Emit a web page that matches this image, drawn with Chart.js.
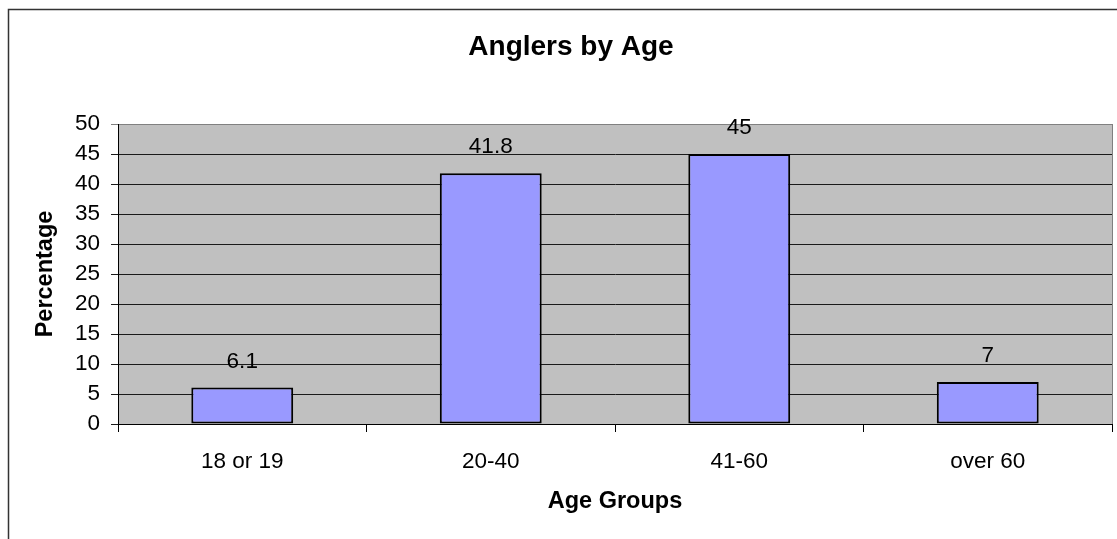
<!DOCTYPE html>
<html>
<head>
<meta charset="utf-8">
<script src="https://cdn.jsdelivr.net/npm/chart.js@4/dist/chart.umd.min.js"></script>
<style>
  html, body { margin: 0; padding: 0; background: #fff; }
  #wrap { width: 1117px; height: 539px; position: relative; }
</style>
</head>
<body>
<div id="wrap"><canvas id="c" width="1117" height="539"></canvas></div>
<script>
const categories = ["18 or 19", "20-40", "41-60", "over 60"];
const percentages = [6.1, 41.8, 45, 7];
const yTickMin = 0;
const yTickMax = 50;
const yTickStep = 5;
const chartTitle = "Anglers by Age";
const xTitle = "Age Groups";
const yTitle = "Percentage";

const FONT = "'Liberation Sans', Arial, sans-serif";

const frame = {
  id: 'frame',
  beforeDraw(chart) {
    const ctx = chart.ctx;
    const a = chart.chartArea;
    ctx.save();
    ctx.fillStyle = '#fff';
    ctx.fillRect(0, 0, chart.width, chart.height);
    // outer chart border (left and top visible)
    ctx.strokeStyle = '#333';
    ctx.lineWidth = 1.5;
    ctx.beginPath();
    ctx.moveTo(8.5, chart.height);
    ctx.lineTo(8.5, 9.5);
    ctx.lineTo(chart.width, 9.5);
    ctx.stroke();
    // plot area
    ctx.fillStyle = '#C0C0C0';
    ctx.fillRect(a.left, a.top, a.right - a.left, a.bottom - a.top);
    ctx.lineWidth = 1;
    ctx.strokeStyle = '#808080';
    ctx.strokeRect(Math.round(a.left) + 0.5, Math.round(a.top) + 0.5,
                   Math.round(a.right - a.left), Math.round(a.bottom - a.top));
    // chart title
    ctx.fillStyle = '#000';
    ctx.font = "bold 28px " + FONT;
    ctx.textAlign = 'center';
    ctx.textBaseline = 'middle';
    ctx.fillText(chartTitle, 571, 47);
    ctx.restore();
  }
};

const valueLabels = {
  id: 'valueLabels',
  afterDatasetsDraw(chart) {
    const ctx = chart.ctx;
    const meta = chart.getDatasetMeta(0);
    ctx.save();
    ctx.font = "22.5px " + FONT;
    ctx.fillStyle = '#000';
    ctx.textAlign = 'center';
    ctx.textBaseline = 'middle';
    meta.data.forEach((bar, i) => {
      ctx.fillText(String(percentages[i]), bar.x, bar.y - 26);
    });
    ctx.restore();
  }
};

new Chart(document.getElementById('c'), {
  type: 'bar',
  data: {
    labels: categories,
    datasets: [{
      data: percentages,
      backgroundColor: '#9999FF',
      borderColor: '#000',
      borderWidth: 2,
      borderSkipped: false,
      barPercentage: 0.41,
      categoryPercentage: 1.0
    }]
  },
  options: {
    responsive: false,
    animation: false,
    devicePixelRatio: 1,
    layout: { padding: { left: 0, right: 5, top: 124, bottom: 0 } },
    plugins: {
      legend: { display: false },
      tooltip: { enabled: false },
      title: { display: false }
    },
    scales: {
      x: {
        grid: {
          drawOnChartArea: false,
          drawTicks: true,
          tickLength: 8,
          color: '#000',
          offset: true
        },
        border: { display: true, color: '#000', width: 1 },
        ticks: {
          color: '#000',
          font: { family: FONT, size: 22.5 },
          padding: 16,
          maxRotation: 0
        },
        title: {
          display: true,
          text: xTitle,
          color: '#000',
          font: { family: FONT, size: 23.5, weight: 'bold' },
          padding: { top: 0, bottom: 23 }
        },
        afterFit(scale) { scale.height = 115; }
      },
      y: {
        min: yTickMin,
        max: yTickMax,
        grid: {
          color: (ctx) => (ctx.tick && ctx.tick.value === yTickMax) ? '#808080' : '#1a1a1a',
          lineWidth: 1,
          tickLength: 7,
          drawTicks: true
        },
        border: { display: true, color: '#000', width: 1 },
        ticks: {
          stepSize: yTickStep,
          color: '#000',
          font: { family: FONT, size: 22.5 },
          padding: 11
        },
        title: {
          display: true,
          text: yTitle,
          color: '#000',
          font: { family: FONT, size: 23.5, weight: 'bold' },
          padding: { top: 31, bottom: 0 }
        },
        afterFit(scale) { scale.width = 118; }
      }
    }
  },
  plugins: [frame, valueLabels]
});
</script>
</body>
</html>
